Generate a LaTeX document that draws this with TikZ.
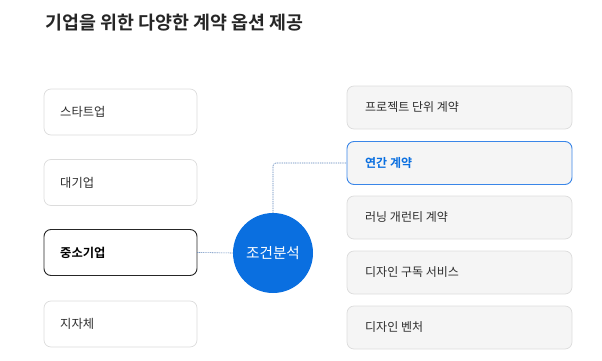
\documentclass[tikz,border=0pt]{standalone}
\usepackage{fontspec}
\setmainfont{Noto Sans CJK KR}
\newfontfamily\krbold{Noto Sans CJK KR Bold}
\definecolor{cblue}{HTML}{0A6FE0}
\definecolor{bblue}{HTML}{3A86E8}
\definecolor{lgray}{HTML}{DCDCDC}
\definecolor{rfill}{HTML}{F5F5F5}
\definecolor{dline}{HTML}{5B82B8}
\definecolor{txt}{HTML}{2E2E2E}
\begin{document}
\begin{tikzpicture}[x=1pt,y=-1pt,
  lbox/.style={draw=lgray,fill=white,rounded corners=7pt,line width=0.7pt,minimum width=153pt,minimum height=46pt,inner sep=0pt},
  rbox/.style={draw=lgray,fill=rfill,rounded corners=7pt,line width=0.7pt,minimum width=225pt,minimum height=43pt,inner sep=0pt},
  ltext/.style={anchor=west,font=\fontsize{12.3}{14}\selectfont,text=txt,inner sep=0pt},
  rtext/.style={anchor=west,font=\fontsize{12}{14}\selectfont,text=txt,inner sep=0pt},
  conn/.style={draw=dline,line width=0.6pt,dash pattern=on 1pt off 0.8pt}]
\useasboundingbox (0,0) rectangle (602,361);
\node[anchor=west,inner sep=0pt,font=\krbold\fontsize{18.4}{20}\selectfont,text=black!85] (title) at (45,23) {기업을 위한 다양한 계약 옵션 제공};
% left boxes
\node[lbox] (l1) at (120.5,112) {};
\node[lbox] (l2) at (120.5,182.5) {};
\node[lbox,draw=black!85,line width=0.9pt] (l3) at (120.5,252.5) {};
\node[lbox] (l4) at (120.5,324) {};
\node[ltext] at (60,112) {스타트업};
\node[ltext] at (60,182.5) {대기업};
\node[ltext,font=\krbold\fontsize{12.3}{14}\selectfont,text=black] at (60,252.5) {중소기업};
\node[ltext] at (60,324) {지자체};
% right boxes
\node[rbox] (r1) at (459.5,107.5) {};
\node[rbox,draw=bblue,line width=0.9pt] (r2) at (459.5,163) {};
\node[rbox] (r3) at (459.5,217.5) {};
\node[rbox] (r4) at (459.5,272.5) {};
\node[rbox] (r5) at (459.5,327.5) {};
\node[rtext] at (365,107.5) {프로젝트 단위 계약};
\node[rtext,font=\krbold\fontsize{12}{14}\selectfont,text=cblue] at (365,163) {연간 계약};
\node[rtext] at (365,217.5) {러닝 개런티 계약};
\node[rtext] at (365,272.5) {디자인 구독 서비스};
\node[rtext] at (365,327.5) {디자인 벤처};
% circle
\node[circle,fill=cblue,minimum size=80pt,inner sep=0pt,text=white,font=\fontsize{14.6}{16}\selectfont] (c) at (273,253) {조건분석};
% connectors
\draw[conn] (l3.east) -- (c.west);
\draw[conn,rounded corners=3pt] (c.north) |- (r2.west);
\end{tikzpicture}
\end{document}
